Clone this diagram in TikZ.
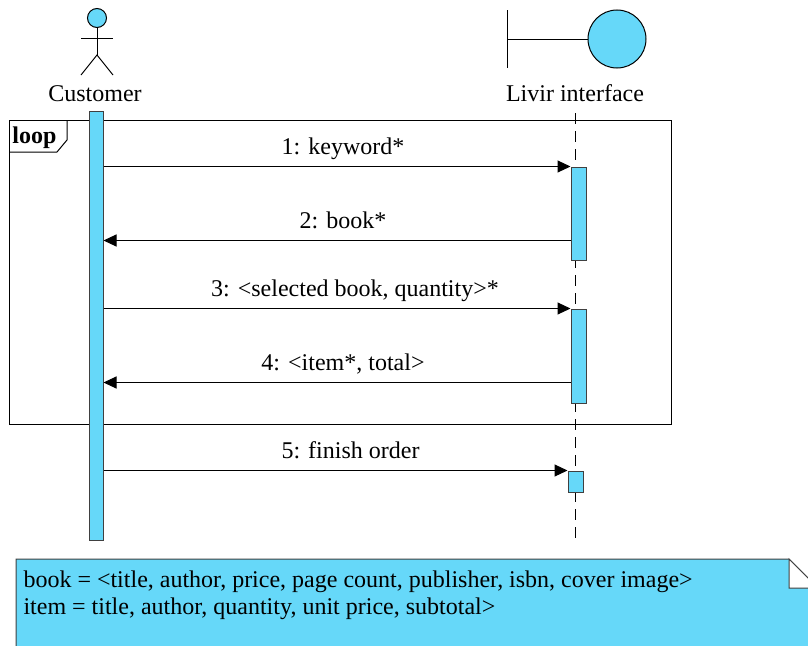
\documentclass[tikz,border=0pt]{standalone}
\usepackage{fontspec}
\setmainfont{Liberation Serif}
\usetikzlibrary{arrows.meta}
\definecolor{lifeblue}{RGB}{102,216,249}
\tikzset{
  msg/.style={draw,line width=1pt,-{Triangle[length=13pt,width=12pt]}},
  activation/.style={rectangle,draw=black!75,fill=lifeblue,line width=1pt,minimum width=15pt,inner sep=0pt},
}

\begin{document}
\begin{tikzpicture}[x=1pt,y=-1pt,line width=1pt,font=\fontsize{24}{28}\selectfont]
  \useasboundingbox (0,0) rectangle (808,645);
  \clip (0,0) rectangle (808,645);

  \draw (9,120) rectangle (671,424);
  \draw (9,152) -- (57,152) -- (67,140) -- (67,120);
  \node[anchor=base west,inner sep=0pt,font=\fontsize{24}{28}\selectfont\bfseries] (loop) at (12,143) {loop};

  \begin{scope}[every node/.style={circle,draw,fill=lifeblue,inner sep=0pt}]
    \node[minimum size=19pt] (head) at (97,18) {};
    \node[minimum size=58pt] (bnd)  at (617,39) {};
  \end{scope}
  \coordinate (hip) at (97,55);
  \coordinate (bar) at (507,39);
  \draw (head) -- (hip);
  \draw (81,38) -- (113,38);
  \draw (81,75) -- (hip) -- (113,75);
  \draw (507,10) -- (507,68);
  \draw (bar) -- (bnd);

  \node[anchor=base] (cust)  at (95,101)  {Customer};
  \node[anchor=base] (livir) at (575,101) {Livir interface};

  \coordinate (ltop) at (575,113);
  \coordinate (lbot) at (575,542);
  \draw[dash pattern=on 11pt off 7pt] (ltop) -- (lbot);

  \node[activation,minimum width=14pt,minimum height=429pt] (cbar) at (96,325.5) {};
  \node[activation,minimum height=93pt] (act1) at (578.5,213.5) {};
  \node[activation,minimum height=94pt] (act2) at (578.5,356)   {};
  \node[activation,minimum height=21pt] (act3) at (575.5,481.5) {};

  \coordinate (m2) at ([yshift=20pt]act1.south west);
  \coordinate (m4) at ([yshift=21pt]act2.south west);

  \begin{scope}[every node/.style={anchor=base,yshift=12pt,xshift=6pt}]
    \path (cbar.east |- act1.north) edge[msg] node {1: keyword*} (act1.north west);
    \path (m2) edge[msg] node {2: book*} (cbar.east |- m2);
    \path (cbar.east |- act2.north) edge[msg] node[xshift=12pt] {3: <selected book, quantity>*} (act2.north west);
    \path (m4) edge[msg] node {4: <item*, total>} (cbar.east |- m4);
    \path (cbar.east |- act3.north) edge[msg] node[xshift=9pt] {5: finish order} (act3.north west);
  \end{scope}

  \path[draw=black!75,fill=lifeblue] (16,559) -- (789,559) -- (818,588) -- (818,660) -- (16,660) -- cycle;
  \draw[draw=black!75,fill=white] (789,559) -- (789,588) -- (818,588) -- cycle;
  \node[anchor=base west,inner sep=0pt] (booknote) at (23,587) {book = <title, author, price, page count, publisher, isbn, cover image>};
  \node[anchor=base west,inner sep=0pt] (itemnote) at (23,614) {item = title, author, quantity, unit price, subtotal>};

\end{tikzpicture}
\end{document}
